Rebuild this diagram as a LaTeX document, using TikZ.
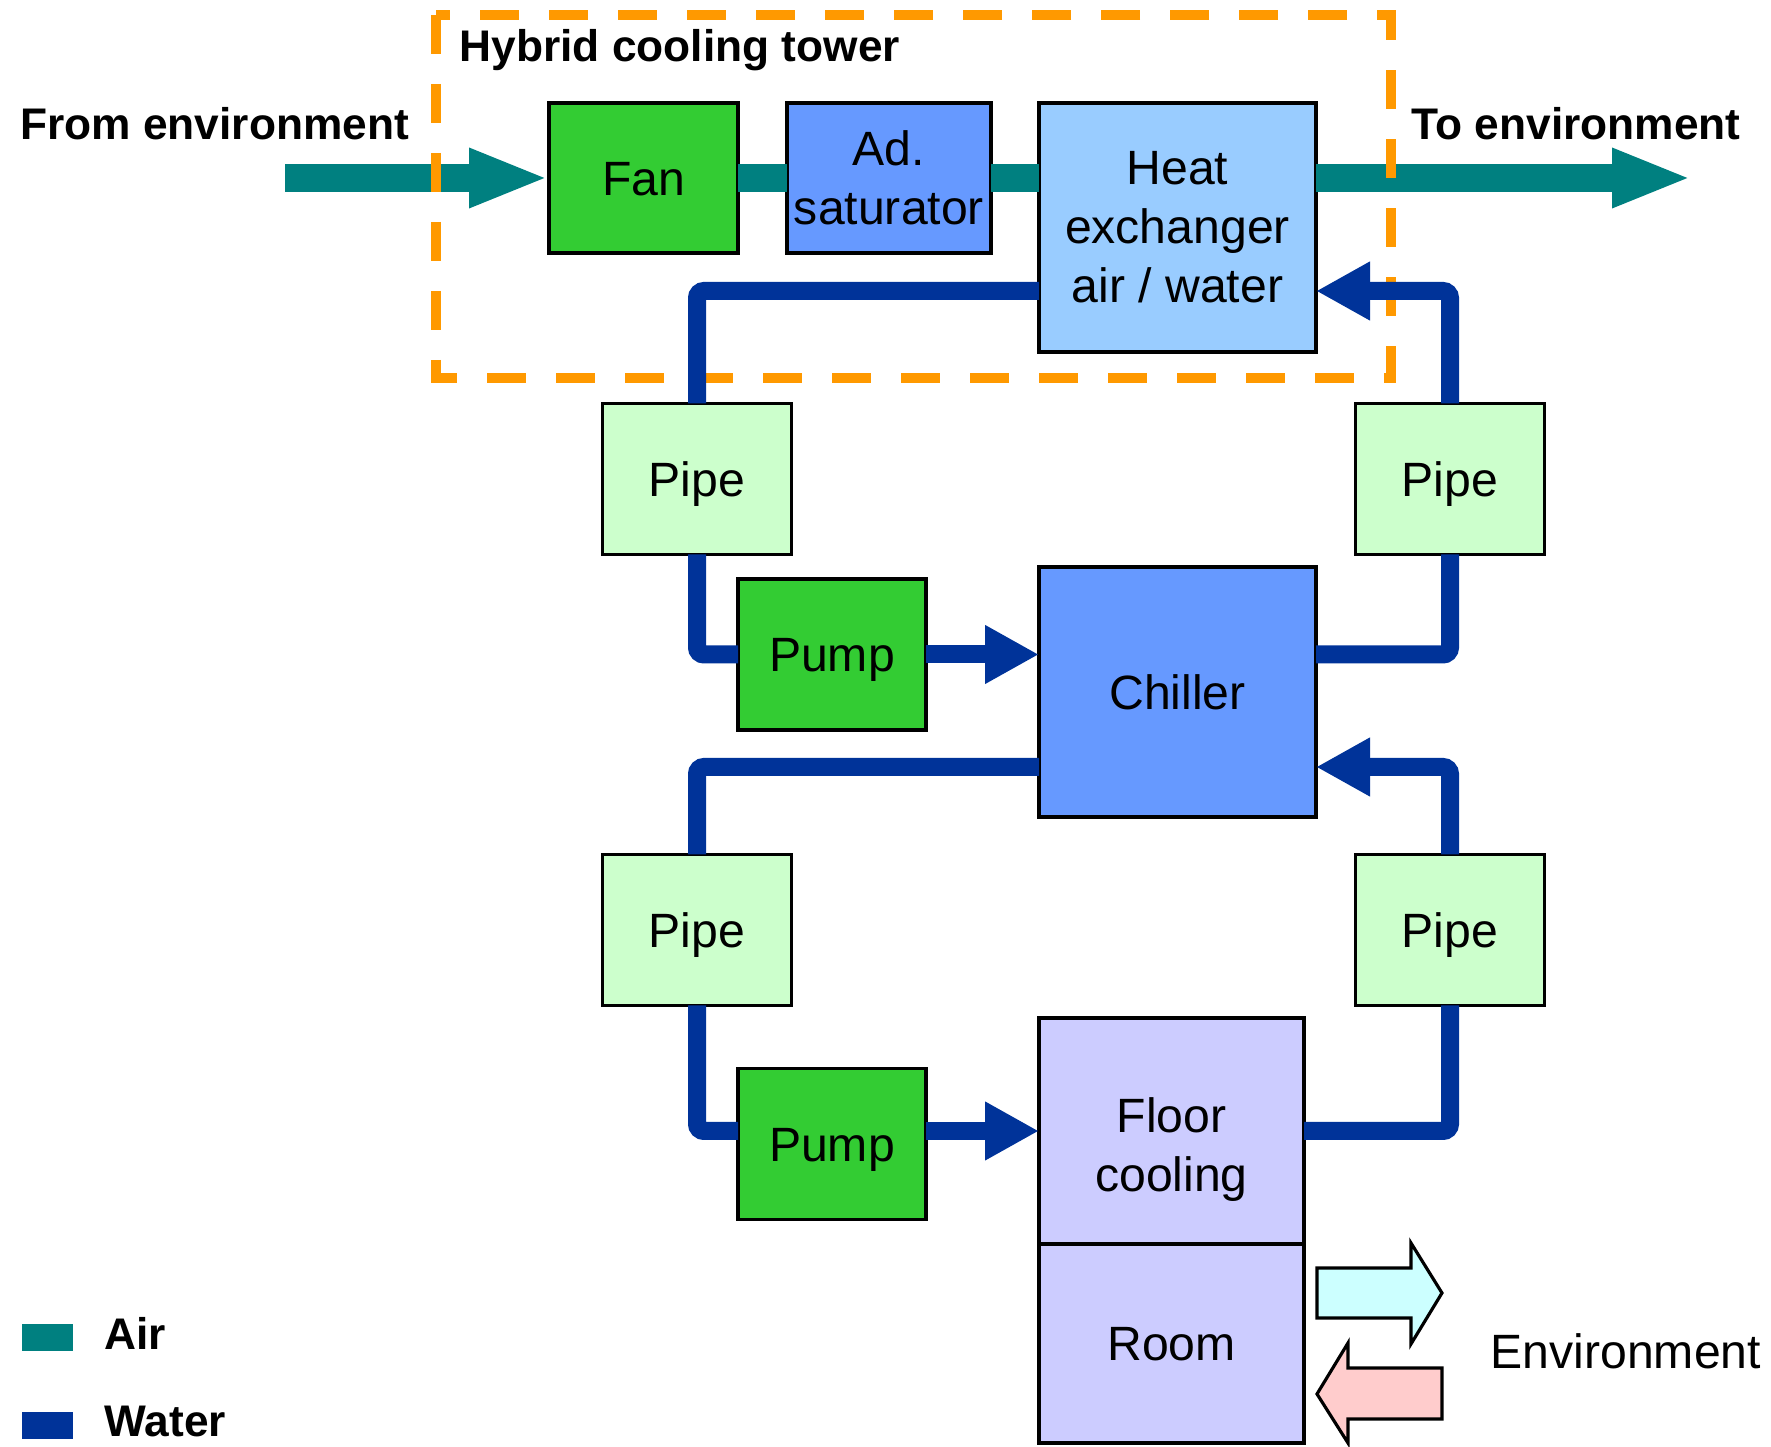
\documentclass[tikz,border=0pt]{standalone}
\usepackage{fontspec}
\setmainfont{Liberation Sans}
\usetikzlibrary{arrows.meta,positioning,calc}

\definecolor{airc}{RGB}{0,128,128}
\definecolor{waterc}{RGB}{0,51,153}
\definecolor{greenc}{RGB}{51,204,51}
\definecolor{bluec}{RGB}{102,153,255}
\definecolor{lightbluec}{RGB}{153,204,255}
\definecolor{pipec}{RGB}{204,255,204}
\definecolor{roomc}{RGB}{204,204,255}
\definecolor{towerc}{RGB}{255,153,0}
\definecolor{outc}{RGB}{204,255,255}
\definecolor{inc}{RGB}{255,204,204}

\tikzset{
  unit/.style={draw, line width=0.9pt, inner sep=0pt, outer sep=0pt, align=center,
    font=\fontsize{13.7}{16.8}\selectfont},
  oneline/.style={text height=0.345cm, text depth=0pt},
  pipebox/.style={unit, oneline, fill=pipec, minimum width=1.89cm, minimum height=1.51cm},
  pumpbox/.style={unit, oneline, fill=greenc, minimum width=1.88cm, minimum height=1.51cm},
  air/.style={airc, line width=0.28cm},
  airhead/.style={air, -{Triangle[length=0.8cm,width=0.54cm]}},
  water/.style={waterc, line width=0.18cm, rounded corners=2pt},
  waterhead/.style={water, -{Triangle[length=0.54cm,width=0.55cm]}},
  lbl/.style={inner sep=0pt, font=\fontsize{12.6}{15}\selectfont\bfseries},
}

\begin{document}
\begin{tikzpicture}
\useasboundingbox (0,0) rectangle (17.71,-14.47);

% hybrid cooling tower
\node[unit, oneline, fill=greenc, minimum width=1.89cm, minimum height=1.50cm] (fan) at (6.435,-1.78) {Fan};
\node[unit, fill=bluec, minimum width=2.04cm, minimum height=1.50cm] (ad) at (8.89,-1.78) {Ad.\\saturator};
\node[unit, fill=lightbluec, minimum width=2.77cm, minimum height=2.49cm] (hx) at (11.775,-2.275) {Heat\\exchanger\\air / water};

% water circuits
\node[pipebox] (pipeL1) at (6.97,-4.79) {Pipe};
\node[pipebox] (pipeR1) at (14.50,-4.79) {Pipe};
\node[pumpbox] (pump1) at (8.32,-6.545) {Pump};
\node[unit, oneline, fill=bluec, minimum width=2.77cm, minimum height=2.50cm] (chiller) at (11.775,-6.92) {Chiller};
\node[pipebox] (pipeL2) at (6.97,-9.30) {Pipe};
\node[pipebox] (pipeR2) at (14.50,-9.30) {Pipe};
\node[pumpbox] (pump2) at (8.32,-11.44) {Pump};
\node[unit, fill=roomc, minimum width=2.65cm, minimum height=2.26cm,
  label={[align=center, font=\fontsize{13.7}{16.8}\selectfont, yshift=-0.19cm]center:{Floor\\cooling}}] (floor) at (11.715,-11.31) {};
\node[unit, oneline, fill=roomc, minimum width=2.65cm, minimum height=1.99cm, below=0pt of floor] (room) {Room};

% air
\coordinate (airin) at (2.85,-1.78);
\coordinate (airout) at (16.92,-1.78);
\draw[airhead] (airin) -- (fan.west);
\draw[air] (fan.east) -- (ad.west);
\draw[air] (ad.east) -- (ad.east -| hx.west);
\draw[airhead] (ad.east -| hx.east) -- (airout);

\draw[towerc, line width=0.1cm, dash pattern=on 0.39cm off 0.30cm] (4.36,-0.15) rectangle (13.91,-3.78);

\draw[water] ([yshift=-0.635cm]hx.west) -| (pipeL1.north);
\draw[water] (pipeL1.south) |- (pump1.west);
\path (pump1.east) edge[waterhead] (pump1.east -| chiller.west);
\draw[water] (pump1.east -| chiller.east) -| (pipeR1.south);
\draw[waterhead] (pipeR1.north) |- ([yshift=-0.635cm]hx.east);

\draw[water] ([yshift=-0.75cm]chiller.west) -| (pipeL2.north);
\draw[water] (pipeL2.south) |- (floor.west -| pump2.west);
\path (pump2.east |- floor.west) edge[waterhead] (floor.west);
\draw[water] (floor.east) -| (pipeR2.south);
\draw[waterhead] (pipeR2.north) |- ([yshift=-0.75cm]chiller.east);

% room and environment
\draw[line width=0.9pt, fill=outc] (13.17,-12.68) -- (14.11,-12.68) -- (14.11,-12.43) -- (14.42,-12.93)
  -- (14.11,-13.44) -- (14.11,-13.18) -- (13.17,-13.18) -- cycle;
\draw[line width=0.9pt, fill=inc] (14.42,-13.68) -- (13.48,-13.68) -- (13.48,-13.43) -- (13.17,-13.94)
  -- (13.48,-14.43) -- (13.48,-14.19) -- (14.42,-14.19) -- cycle;

\node[lbl, anchor=base west] (title) at (4.59,-0.62) {Hybrid cooling tower};
\node[lbl, anchor=base west] (from) at (0.195,-1.40) {From environment};
\node[lbl, anchor=base west] (to) at (14.11,-1.40) {To environment};
\node[anchor=base west, inner sep=0pt, font=\fontsize{13.7}{16.8}\selectfont] (env) at (14.90,-13.69) {Environment};

% legend
\fill[airc] (0.22,-13.24) rectangle (0.73,-13.51);
\fill[waterc] (0.22,-14.12) rectangle (0.73,-14.39);
\node[lbl, anchor=base west] (airlbl) at (1.04,-13.50) {Air};
\node[lbl, anchor=base west] (waterlbl) at (1.04,-14.37) {Water};
\end{tikzpicture}
\end{document}
